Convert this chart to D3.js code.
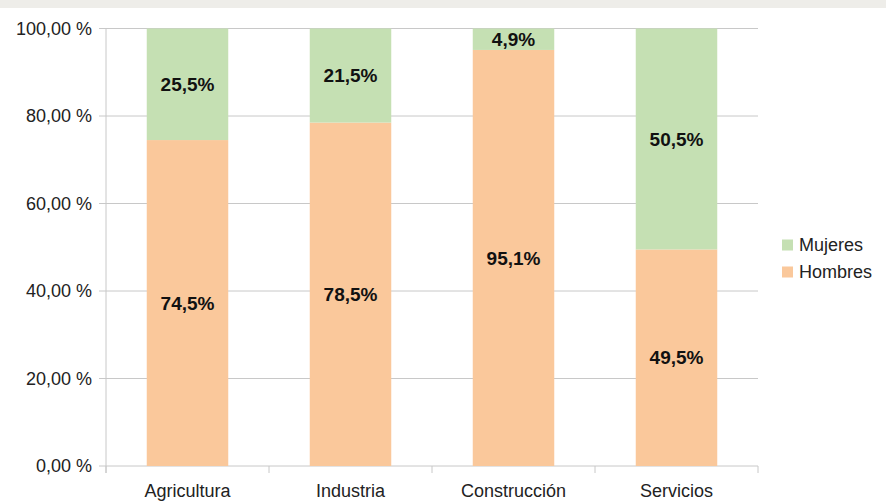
<!DOCTYPE html>
<html>
<head>
<meta charset="utf-8">
<script src="https://cdn.jsdelivr.net/npm/d3@7"></script>
<style>
  html, body { margin: 0; padding: 0; background: #fff; }
  svg { display: block; font-family: "Liberation Sans", Arial, sans-serif; }
</style>
</head>
<body>
<svg id="chart" width="886" height="504"></svg>
<script>
// stacked 100% columns — Hombres / Mujeres por sector
const categories = ['Agricultura', 'Industria', 'Construcción', 'Servicios'];
const hombres = [74.5, 78.5, 95.1, 49.5];
const mujeres = [25.5, 21.5, 4.9, 50.5];
const yTicks = [0, 20, 40, 60, 80, 100];
const seriesNames = ['Mujeres', 'Hombres'];

const COLORS = { Hombres: '#fac89b', Mujeres: '#c5e0b3' };
const M = { left: 106, right: 128, top: 28.5, bottom: 38 };
const W = 886, H = 504;
const width = W - M.left - M.right;
const height = H - M.top - M.bottom;

const svg = d3.select('#chart');

// grey strip at the very top
svg.append('rect').attr('x', 0).attr('y', 0).attr('width', W).attr('height', 8)
    .attr('fill', '#eeede9');

const g = svg.append('g').attr('transform', `translate(${M.left},${M.top})`);

const x = d3.scaleBand().domain(categories).range([0, width]).paddingInner(0.5).paddingOuter(0.25);
const xOuter = d3.scaleBand().domain(categories).range([0, width]);
const y = d3.scaleLinear().domain([0, 100]).range([height, 0]);

const fmtPct = d => d3.format('.2f')(d).replace('.', ',') + ' %';
const fmtLbl = d => d.toFixed(1).replace('.', ',') + '%';

// grid
g.append('g').selectAll('line').data(yTicks).join('line')
    .attr('x1', -7).attr('x2', width)
    .attr('y1', d => y(d)).attr('y2', d => y(d))
    .attr('stroke', '#c8c8c8').attr('stroke-width', 1);

// category boundary ticks
const bounds = categories.map(c => xOuter(c)).concat([width]);
g.append('g').selectAll('line').data(bounds).join('line')
    .attr('x1', d => d).attr('x2', d => d)
    .attr('y1', height).attr('y2', height + 7)
    .attr('stroke', '#c8c8c8');

// left axis line
g.append('line').attr('x1', 0).attr('x2', 0).attr('y1', 0).attr('y2', height + 7)
    .attr('stroke', '#c8c8c8');

// y labels
g.append('g').selectAll('text').data(yTicks).join('text')
    .attr('x', -14).attr('y', d => y(d)).attr('dy', '0.35em')
    .attr('text-anchor', 'end').attr('font-size', 18).attr('fill', '#222')
    .text(fmtPct);

// x labels
g.append('g').selectAll('text').data(categories).join('text')
    .attr('x', d => x(d) + x.bandwidth() / 2).attr('y', height + 31)
    .attr('text-anchor', 'middle').attr('font-size', 18).attr('fill', '#222')
    .text(d => d);

// bars
const rows = categories.map((c, i) => ({ cat: c, Hombres: hombres[i], Mujeres: mujeres[i] }));
const stack = d3.stack().keys(['Hombres', 'Mujeres'])(rows);

const layers = g.append('g').selectAll('g').data(stack).join('g')
    .attr('fill', d => COLORS[d.key]);

layers.selectAll('rect').data(d => d).join('rect')
    .attr('x', d => x(d.data.cat))
    .attr('width', x.bandwidth())
    .attr('y', d => y(d[1]))
    .attr('height', d => y(d[0]) - y(d[1]));

layers.selectAll('text').data(d => d.map(v => Object.assign({ key: d.key }, v))).join('text')
    .attr('x', d => x(d.data.cat) + x.bandwidth() / 2)
    .attr('y', d => (y(d[0]) + y(d[1])) / 2)
    .attr('dy', '0.35em')
    .attr('text-anchor', 'middle')
    .attr('font-size', 19).attr('font-weight', 'bold').attr('fill', '#111')
    .text(d => fmtLbl(d.data[d.key]));

// legend
const leg = svg.append('g').attr('transform', 'translate(782,245)');
leg.selectAll('g').data(seriesNames).join('g')
    .attr('transform', (d, i) => `translate(0,${i * 27})`)
    .call(s => {
        s.append('rect').attr('x', 0).attr('y', -5.5).attr('width', 11).attr('height', 11)
            .attr('fill', d => COLORS[d]);
        s.append('text').attr('x', 17).attr('dy', '0.35em')
            .attr('font-size', 18).attr('fill', '#222').text(d => d);
    });
</script>
</body>
</html>
